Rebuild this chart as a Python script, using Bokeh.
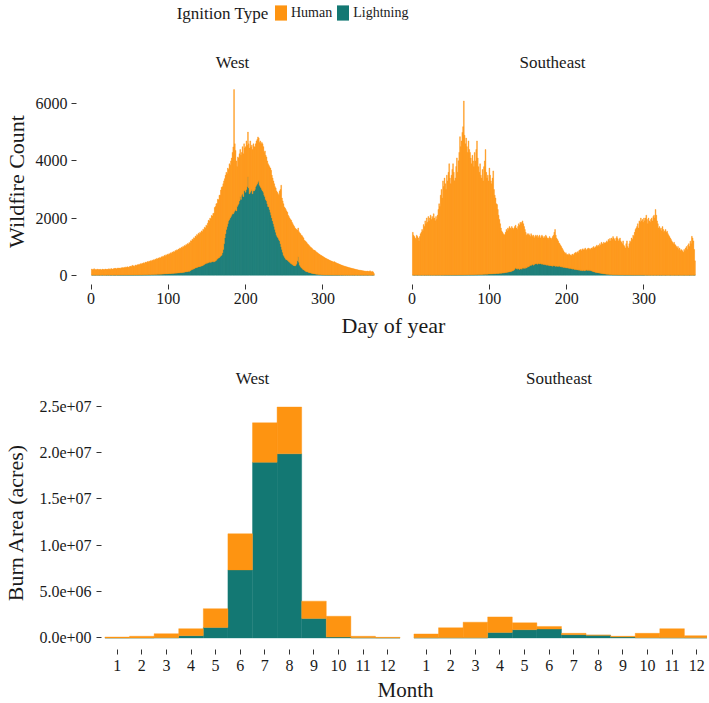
from bokeh.plotting import figure
from bokeh.models import Range1d, FixedTicker, Label, Legend, LegendItem, ColumnDataSource
from bokeh.layouts import column, row
from bokeh.embed import file_html
from bokeh.resources import INLINE

FONT = "Liberation Serif"
ORANGE = "#FE9411"
TEAL = "#137873"
TXT = "#1a1a1a"

# ---------------- data ----------------
days = list(range(1, 367))

west_human = [
    215, 190, 200, 222, 185, 198, 192, 210, 201, 188,
    195, 205, 183, 190, 210, 198, 186, 202, 214, 193,
    205, 196, 220, 210, 198, 230, 215, 204, 222, 235,
    228, 240, 219, 235, 250, 232, 244, 226, 258, 247,
    262, 250, 271, 245, 283, 266, 290, 274, 260, 298,
    305, 288, 318, 340, 312, 296, 335, 350, 322, 361,
    348, 372, 355, 390, 368, 402, 385, 420, 396, 430,
    445, 418, 460, 437, 472, 455, 490, 468, 505, 482,
    520, 498, 540, 515, 560, 532, 575, 548, 590, 565,
    610, 585, 628, 600, 655, 618, 670, 640, 690, 662,
    705, 680, 728, 700, 755, 722, 770, 745, 798, 770,
    815, 790, 840, 812, 870, 835, 892, 860, 915, 888,
    935, 905, 960, 928, 985, 950, 1010, 975, 1040, 1005,
    1060, 1025, 1090, 1055, 1120, 1080, 1150, 1110, 1180, 1140,
    1200, 1165, 1230, 1190, 1265, 1220, 1300, 1255, 1340, 1290,
    1400, 1480, 1450, 1540, 1520, 1620, 1590, 1700, 1680, 1900,
    1900, 1980, 1950, 2080, 2040, 2180, 2150, 2300, 2380, 2320,
    2300, 2200, 2080, 2050, 2000, 1850, 1950, 1800, 1950, 1850,
    1950, 2000, 2150, 2340, 4300, 2350, 2070, 1750, 1400, 1690,
    1600, 1650, 1660, 1550, 1500, 1650, 1500, 1650, 1480, 1600,
    1700, 1450, 1570, 1550, 1600, 1800, 1540, 1550, 1550, 1650,
    1550, 1490, 1500, 1550, 1550, 1590, 1500, 1500, 1600, 1550,
    1650, 1650, 1600, 1500, 1600, 1550, 1540, 1500, 1500, 1460,
    1500, 1550, 1570, 1500, 1500, 1500, 1500, 1500, 1550, 1550,
    1560, 1550, 1550, 1750, 1900, 2160, 1800, 1800, 1800, 1740,
    1750, 1740, 1710, 1675, 1600, 1580, 1550, 1530, 1520, 1470,
    1440, 1410, 1370, 1330, 1270, 1200, 1070, 1010, 1070, 1130,
    1150, 1140, 1140, 1130, 1110, 1050, 1050, 1040, 1020, 983,
    970, 950, 925, 905, 890, 870, 845, 830, 825, 810,
    785, 770, 752, 735, 718, 700, 682, 675, 658, 640,
    630, 610, 595, 580, 565, 550, 540, 525, 512, 500,
    490, 478, 466, 455, 470, 440, 430, 418, 405, 395,
    385, 370, 362, 350, 340, 332, 320, 312, 305, 296,
    288, 280, 270, 262, 255, 248, 240, 232, 226, 220,
    212, 205, 198, 192, 186, 180, 175, 170, 165, 160,
    155, 150, 146, 142, 138, 135, 132, 140, 128, 125,
    150, 122, 118, 130, 112, 60,
]

west_lightning = [
    0, 1, 0, 2, 0, 1, 0, 0, 1, 0,
    1, 0, 0, 2, 1, 0, 0, 1, 0, 2,
    0, 1, 2, 0, 1, 3, 1, 0, 2, 1,
    2, 1, 0, 3, 2, 1, 2, 4, 1, 3,
    2, 4, 3, 1, 5, 3, 2, 4, 6, 3,
    5, 4, 7, 3, 6, 8, 5, 7, 9, 6,
    8, 10, 7, 12, 9, 11, 14, 10, 13, 15,
    12, 16, 14, 18, 15, 20, 17, 22, 19, 24,
    21, 26, 23, 28, 25, 30, 27, 33, 29, 35,
    32, 38, 35, 42, 38, 45, 41, 48, 44, 52,
    48, 56, 52, 60, 57, 64, 60, 68, 65, 72,
    70, 78, 74, 82, 80, 90, 85, 95, 92, 100,
    105, 115, 110, 125, 120, 135, 130, 150, 165, 190,
    200, 210, 220, 235, 250, 260, 270, 280, 290, 295,
    300, 310, 320, 330, 345, 360, 380, 400, 410, 430,
    420, 440, 450, 460, 445, 470, 480, 460, 490, 470,
    500, 520, 560, 580, 600, 620, 650, 680, 700, 780,
    900, 1100, 1300, 1450, 1600, 1700, 1800, 1900, 1950, 2000,
    2050, 2100, 2150, 2150, 2200, 2250, 2300, 2250, 2400, 2450,
    2500, 2600, 2740, 2650, 2800, 2850, 2750, 2950, 2970, 2900,
    3000, 3100, 3440, 3050, 2850, 2900, 2950, 3000, 2850, 2950,
    2950, 3000, 3100, 3150, 3200, 3250, 3300, 3150, 3100, 3050,
    3000, 2950, 2900, 2800, 2750, 2650, 2600, 2500, 2400, 2390,
    2300, 2200, 2100, 2000, 1900, 1800, 1700, 1600, 1500, 1400,
    1340, 1300, 1250, 1200, 1100, 990, 900, 800, 700, 650,
    600, 560, 540, 525, 500, 470, 450, 420, 400, 380,
    360, 340, 330, 320, 350, 400, 500, 640, 450, 350,
    300, 260, 240, 210, 190, 170, 150, 130, 120, 117,
    100, 90, 85, 75, 70, 60, 55, 50, 45, 40,
    35, 30, 28, 25, 22, 20, 18, 15, 12, 10,
    8, 7, 6, 6, 5, 5, 4, 4, 3, 3,
    3, 2, 3, 2, 2, 1, 2, 1, 1, 2,
    1, 1, 0, 1, 1, 0, 1, 0, 1, 0,
    0, 1, 0, 0, 1, 0, 0, 1, 0, 0,
    1, 0, 0, 0, 1, 0, 0, 0, 1, 0,
    0, 0, 1, 0, 0, 0, 0, 1, 0, 0,
    0, 0, 0, 1, 0, 0,
]

se_human = [
    1500, 1400, 1350, 1300, 1250, 1400, 1350, 1300, 1200, 1350,
    1450, 1500, 1600, 1550, 1770, 1700, 1900, 1800, 2000, 1850,
    2050, 1900, 2000, 2100, 1950, 2050, 1980, 2150, 2000, 1900,
    2050, 1950, 2100, 2300, 2500, 2400, 2800, 3000, 2700, 3300,
    3100, 3400, 3200, 3000, 3500, 3300, 3600, 3900, 3400, 3200,
    3500, 3700, 3900, 3600, 3300, 3400, 3800, 4100, 3600, 4000,
    4295, 4844, 4495, 4693, 4994, 5192, 6093, 4891, 4592, 4790,
    4491, 4289, 4690, 4388, 4288, 4086, 3887, 4185, 3986, 3784,
    4285, 3982, 4383, 4680, 4081, 3778, 3579, 3876, 3477, 3374,
    3675, 3272, 3773, 3970, 4368, 3570, 3365, 3467, 3262, 3714,
    3460, 3262, 3156, 3358, 3602, 2954, 2748, 2650, 2444, 2416,
    2240, 2042, 1885, 1738, 1580, 1482, 1425, 1378, 1320, 1335,
    1410, 1505, 1450, 1545, 1490, 1585, 1530, 1475, 1560, 1500,
    1440, 1470, 1480, 1500, 1420, 1390, 1460, 1580, 1550, 1635,
    1570, 1640, 1650, 1560, 1440, 1370, 1230, 1150, 1170, 1100,
    1160, 1080, 1000, 1110, 1040, 970, 1050, 930, 950, 1010,
    940, 1020, 900, 930, 1010, 890, 950, 1020, 960, 930,
    970, 940, 1030, 1000, 940, 910, 950, 1020, 960, 930,
    970, 1040, 1060, 1180, 1270, 1100, 980, 940, 900, 810,
    790, 760, 700, 670, 610, 580, 520, 490, 510, 470,
    460, 460, 500, 490, 460, 460, 490, 530, 480, 560,
    570, 610, 560, 640, 590, 680, 700, 740, 680, 750,
    760, 710, 750, 790, 730, 690, 755, 775, 740, 760,
    740, 800, 780, 840, 880, 840, 880, 905, 960, 915,
    970, 925, 1030, 985, 1090, 1045, 1030, 1105, 1080, 1092,
    1115, 1168, 1120, 1222, 1175, 1258, 1180, 1282, 1234, 1335,
    1286, 1237, 1188, 1289, 1340, 1270, 1191, 1241, 1292, 1192,
    1143, 1093, 1194, 1044, 995, 945, 1095, 1196, 996, 946,
    1097, 1197, 1147, 1297, 1248, 1398, 1348, 1498, 1598, 1648,
    1698, 1799, 1648, 1899, 1849, 1998, 1899, 1949, 1849, 1999,
    1900, 2000, 2100, 1950, 1800, 2000, 1900, 1850, 1950, 2000,
    1900, 2050, 2100, 2000, 2300, 2100, 1900, 1800, 1650, 1700,
    1600, 1650, 1550, 1700, 1600, 1500, 1550, 1600, 1500, 1540,
    1450, 1400, 1350, 1300, 1250, 1200, 1150, 1100, 1150, 1070,
    1050, 1000, 950, 1000, 900, 950, 850, 900, 880, 840,
    800, 900, 850, 950, 1000, 900, 1050, 1100, 1000, 1190,
    1100, 1360, 1300, 1200, 900, 500,
]

se_lightning = [
    0, 0, 1, 0, 0, 0, 1, 0, 0, 0,
    0, 1, 0, 0, 0, 1, 0, 0, 1, 0,
    1, 0, 0, 1, 0, 0, 1, 0, 0, 1,
    0, 1, 0, 1, 0, 1, 0, 1, 1, 0,
    1, 1, 2, 1, 2, 1, 2, 2, 1, 3,
    2, 3, 2, 3, 4, 3, 4, 5, 3, 5,
    5, 6, 5, 7, 6, 8, 7, 9, 8, 10,
    9, 11, 10, 12, 12, 14, 13, 15, 14, 16,
    15, 18, 17, 20, 19, 22, 21, 24, 23, 26,
    25, 28, 27, 30, 32, 30, 35, 33, 38, 36,
    40, 38, 44, 42, 48, 46, 52, 50, 56, 54,
    60, 58, 65, 62, 70, 68, 75, 72, 80, 85,
    90, 95, 100, 105, 110, 115, 120, 125, 140, 150,
    160, 180, 220, 250, 230, 210, 240, 220, 200, 215,
    230, 210, 250, 240, 260, 230, 270, 250, 280, 300,
    290, 320, 350, 340, 360, 380, 350, 370, 400, 390,
    410, 380, 400, 420, 390, 410, 400, 380, 390, 370,
    380, 360, 370, 350, 360, 340, 350, 330, 340, 320,
    330, 310, 340, 320, 330, 300, 320, 310, 300, 320,
    310, 290, 300, 280, 290, 270, 280, 260, 270, 250,
    260, 240, 250, 230, 240, 220, 230, 210, 220, 200,
    210, 190, 200, 180, 190, 170, 180, 160, 170, 150,
    160, 170, 150, 160, 170, 180, 165, 175, 160, 170,
    160, 150, 140, 130, 120, 110, 100, 95, 90, 85,
    80, 75, 70, 65, 60, 55, 50, 45, 40, 38,
    35, 32, 30, 28, 25, 22, 20, 18, 16, 15,
    14, 13, 12, 11, 10, 10, 9, 9, 8, 8,
    7, 7, 6, 6, 5, 5, 5, 4, 4, 4,
    3, 3, 3, 3, 2, 2, 2, 2, 2, 2,
    2, 1, 2, 1, 1, 2, 1, 1, 1, 1,
    1, 0, 1, 0, 1, 0, 0, 1, 0, 0,
    0, 1, 0, 0, 0, 1, 0, 0, 0, 1,
    0, 0, 1, 0, 0, 0, 0, 1, 0, 0,
    0, 0, 0, 1, 0, 0, 0, 0, 0, 1,
    0, 0, 0, 0, 1, 0, 0, 0, 0, 0,
    0, 1, 0, 0, 0, 0, 0, 0, 1, 0,
    0, 0, 0, 0, 1, 0,
]

months = list(range(1, 13))
west_burn_human = [100000, 180000, 430000, 750000, 2030000, 3900000,
                   4260000, 5040000, 1880000, 2240000, 170000, 70000]
west_burn_lightning = [0, 5000, 30000, 250000, 1130000, 7340000,
                       18940000, 19860000, 2090000, 100000, 10000, 0]
se_burn_human = [420000, 1080000, 1680000, 1670000, 740000, 280000,
                 150000, 40000, 70000, 470000, 980000, 240000]
se_burn_lightning = [10000, 20000, 20000, 600000, 890000, 960000,
                     350000, 280000, 110000, 30000, 20000, 10000]

ignition_types = ["Human", "Lightning"]
count_ticks = [0, 2000, 4000, 6000]
day_ticks = [0, 100, 200, 300]
burn_ticks = [0, 5000000, 10000000, 15000000, 20000000, 25000000]
burn_tick_labels = ["0.0e+00", "5.0e+06", "1.0e+07", "1.5e+07", "2.0e+07", "2.5e+07"]
month_ticks = months

assert len(west_human) == 366 and len(west_lightning) == 366
assert len(se_human) == 366 and len(se_lightning) == 366


def style_axes(p, xstand, ystand):
    for ax in p.axis:
        ax.axis_line_color = None
        ax.major_tick_in = 0
        ax.major_tick_out = 5
        ax.minor_tick_line_color = None
        ax.major_tick_line_color = "#333333"
        ax.major_label_text_font = FONT
        ax.major_label_text_font_size = "16px"
        ax.major_label_text_color = TXT
        ax.axis_label_text_font = FONT
        ax.axis_label_text_font_size = "22px"
        ax.axis_label_text_font_style = "normal"
        ax.axis_label_text_color = TXT
    p.xaxis.major_label_standoff = xstand
    if p.yaxis:
        p.yaxis.major_label_standoff = ystand


def panel(title, width, height, xr, yr, mbl, mbr, mbt, mbb, yaxis, standoff, xstand, ystand):
    p = figure(width=width, height=height, x_range=xr, y_range=yr,
               output_backend="svg", toolbar_location=None,
               y_axis_type="linear" if yaxis else None,
               min_border_left=mbl, min_border_right=mbr,
               min_border_top=mbt, min_border_bottom=mbb, title=title)
    p.outline_line_color = None
    p.grid.visible = False
    p.title.align = "center"
    p.title.text_font = FONT
    p.title.text_font_size = "17px"
    p.title.text_font_style = "normal"
    p.title.text_color = TXT
    p.title.standoff = standoff
    style_axes(p, xstand, ystand)
    return p


def blank(width, height):
    f = figure(width=width, height=height, x_range=Range1d(0, width),
               y_range=Range1d(0, height), x_axis_type=None, y_axis_type=None,
               output_backend="svg", toolbar_location=None, min_border=0)
    f.outline_line_color = None
    f.grid.visible = False
    return f


W = 707

# ---------------- header (legend) ----------------
hdr = blank(W, 40)
rh = hdr.vbar(x=[0], top=[0], width=0, fill_color=ORANGE, line_color=None)
rl = hdr.vbar(x=[0], top=[0], width=0, fill_color=TEAL, line_color=None)
leg = Legend(items=[LegendItem(label=ignition_types[0], renderers=[rh]),
                    LegendItem(label=ignition_types[1], renderers=[rl])],
             orientation="horizontal", location=(273, 18),
             glyph_width=15, glyph_height=19, label_height=19,
             label_standoff=3, spacing=3, padding=0, margin=0,
             border_line_color=None, background_fill_alpha=0,
             label_text_font=FONT, label_text_font_size="14px",
             label_text_color=TXT)
hdr.add_layout(leg)
hdr.add_layout(Label(x=268, y=27, text="Ignition Type", text_align="right",
                     text_baseline="middle", text_font=FONT,
                     text_font_size="17px", text_color=TXT))

# ---------------- top row: wildfire counts ----------------
day_xr_w = Range1d(-18.85, 384.85)
day_xr_s = Range1d(-18.85, 382.2)
count_yr = Range1d(-328, 6888)

tw = panel("West", 388, 271, day_xr_w, count_yr, 76, 0, 38, 27, True, 13, 3, 4)
ts = panel("Southeast", 319, 271, day_xr_s, count_yr, 9, 0, 38, 27, False, 13, 3, 4)

for p, hum, lig in ((tw, west_human, west_lightning), (ts, se_human, se_lightning)):
    src = ColumnDataSource(dict(day=days, human=hum, lightning=lig))
    p.vbar_stack(["lightning", "human"], x="day", width=1, source=src,
                 color=[TEAL, ORANGE], line_width=0.4)
    p.xaxis.ticker = FixedTicker(ticks=day_ticks)
tw.yaxis.ticker = FixedTicker(ticks=count_ticks)
tw.yaxis.axis_label = "Wildfire Count"
tw.yaxis.axis_label_standoff = 4

doy = blank(W, 28)
doy.add_layout(Label(x=393, y=14, text="Day of year", text_align="center",
                     text_baseline="middle", text_font=FONT,
                     text_font_size="22px", text_color=TXT))

# ---------------- bottom row: burn area ----------------
month_xr_w = Range1d(0.36, 12.64)
month_xr_s = Range1d(0.36, 12.44)
burn_yr = Range1d(-1245000, 26145000)

bw = panel("West", 403, 338, month_xr_w, burn_yr, 101, 0, 56, 28, True, 15, 5, 5)
bs = panel("Southeast", 304, 338, month_xr_s, burn_yr, 7, 0, 56, 28, False, 15, 5, 5)

for p, hum, lig in ((bw, west_burn_human, west_burn_lightning),
                    (bs, se_burn_human, se_burn_lightning)):
    src = ColumnDataSource(dict(month=months, human=hum, lightning=lig))
    p.vbar_stack(["lightning", "human"], x="month", width=1, source=src,
                 color=[TEAL, ORANGE], line_width=0.4)
    p.xaxis.ticker = FixedTicker(ticks=month_ticks)
bw.yaxis.ticker = FixedTicker(ticks=burn_ticks)
bw.yaxis.major_label_overrides = {int(t): lab for t, lab in zip(burn_ticks, burn_tick_labels)}
bw.yaxis.axis_label = "Burn Area (acres)"
bw.yaxis.axis_label_standoff = 8

mon = blank(W, 25)
mon.add_layout(Label(x=405, y=12.5, text="Month", text_align="center",
                     text_baseline="middle", text_font=FONT,
                     text_font_size="21px", text_color=TXT))

layout = column(hdr, row(tw, ts), doy, row(bw, bs), mon)

with open("out.html", "w") as f:
    f.write(file_html(layout, INLINE))
